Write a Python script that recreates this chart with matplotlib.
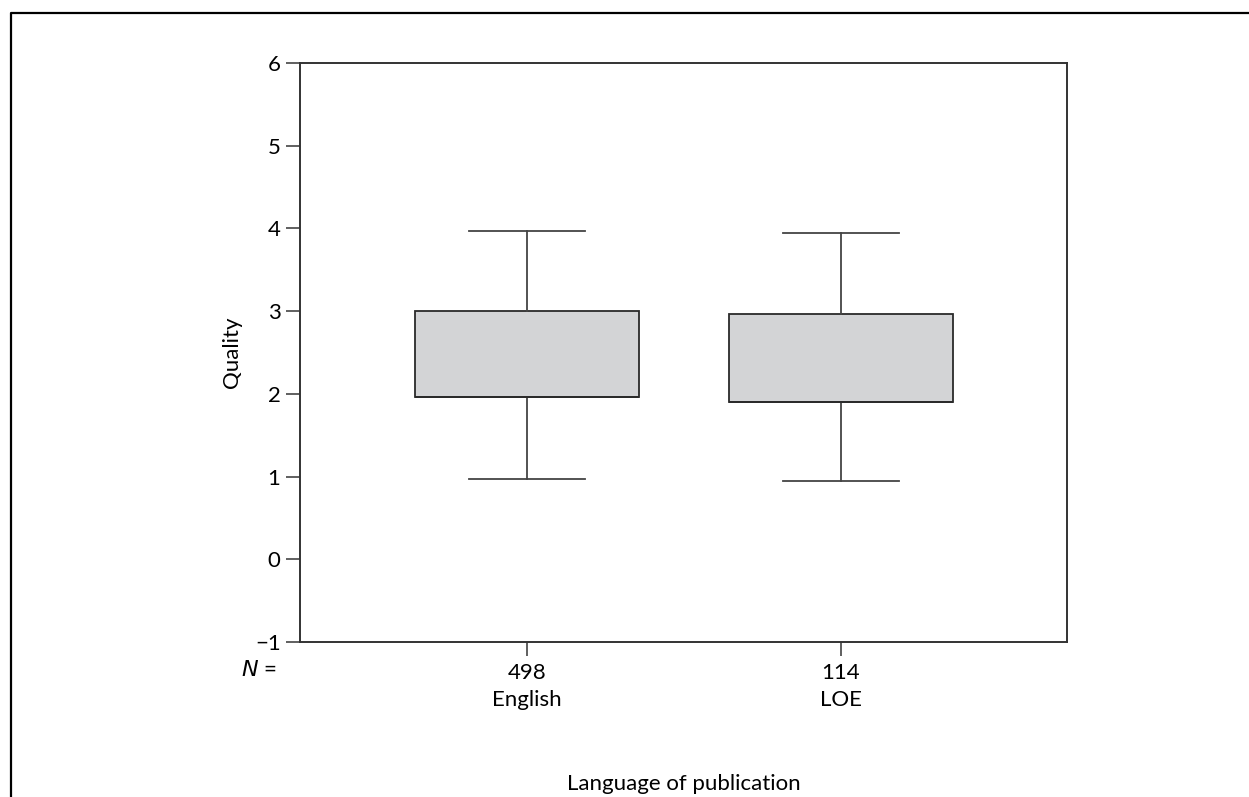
import matplotlib.pyplot as plt
from matplotlib.lines import Line2D

plt.rcParams["font.family"] = ["Lato", "DejaVu Sans"]

groups = ["English", "LOE"]
counts = [498, 114]
whisker_low = [0.97, 0.95]
q1 = [1.96, 1.90]
q3 = [3.00, 2.96]
whisker_high = [3.97, 3.95]

fig = plt.figure(figsize=(12.49, 7.97), dpi=100)
ax = fig.add_axes([0.2402, 0.1945, 0.6141, 0.7265])

stats = []
for g, lo, a, b, hi in zip(groups, whisker_low, q1, q3, whisker_high):
    stats.append({"label": g, "whislo": lo, "q1": a, "med": a, "q3": b, "whishi": hi, "fliers": []})

ax.bxp(
    stats,
    positions=[1, 2],
    widths=0.716,
    capwidths=0.37,
    patch_artist=True,
    showfliers=False,
    boxprops=dict(facecolor="#d3d4d6", edgecolor="#2a2a2a", linewidth=1.3),
    whiskerprops=dict(color="#444444", linewidth=1.3),
    capprops=dict(color="#444444", linewidth=1.3),
    medianprops=dict(color="#2a2a2a", linewidth=1.3),
)

ax.set_xlim(1 - 0.723, 2 + 0.72)
ax.set_ylim(-1, 6)
ax.set_yticks(range(-1, 7))
ax.set_yticklabels(["\u2212" + str(-v) if v < 0 else str(v) for v in range(-1, 7)])
ax.set_xticks([1, 2])
ax.set_xticklabels([f"{n}\n{g}" for n, g in zip(counts, groups)], linespacing=1.45)
ax.tick_params(axis="both", labelsize=16, length=10, width=1.2, color="#444444")
ax.tick_params(axis="x", pad=5)
ax.tick_params(axis="y", pad=4)
for s in ax.spines.values():
    s.set_color("#333333")
    s.set_linewidth(1.4)

ax.set_ylabel("Quality", fontsize=16)
ax.yaxis.set_label_coords(-0.076, 0.5)
ax.set_xlabel("Language of publication", fontsize=16)
ax.xaxis.set_label_coords(0.5, -0.228)
fig.text(259 / 1249, 1 - 670 / 797, r"$\it{N}$ =", fontsize=16, ha="center", va="center")

# outer frame (cut by the image at right and bottom)
fig.add_artist(Line2D([11 / 1249, 11 / 1249, 1.0], [0.0, 1 - 13 / 797, 1 - 13 / 797],
                      transform=fig.transFigure, color="black", linewidth=1.6))

fig.savefig("out.png", dpi=100)
